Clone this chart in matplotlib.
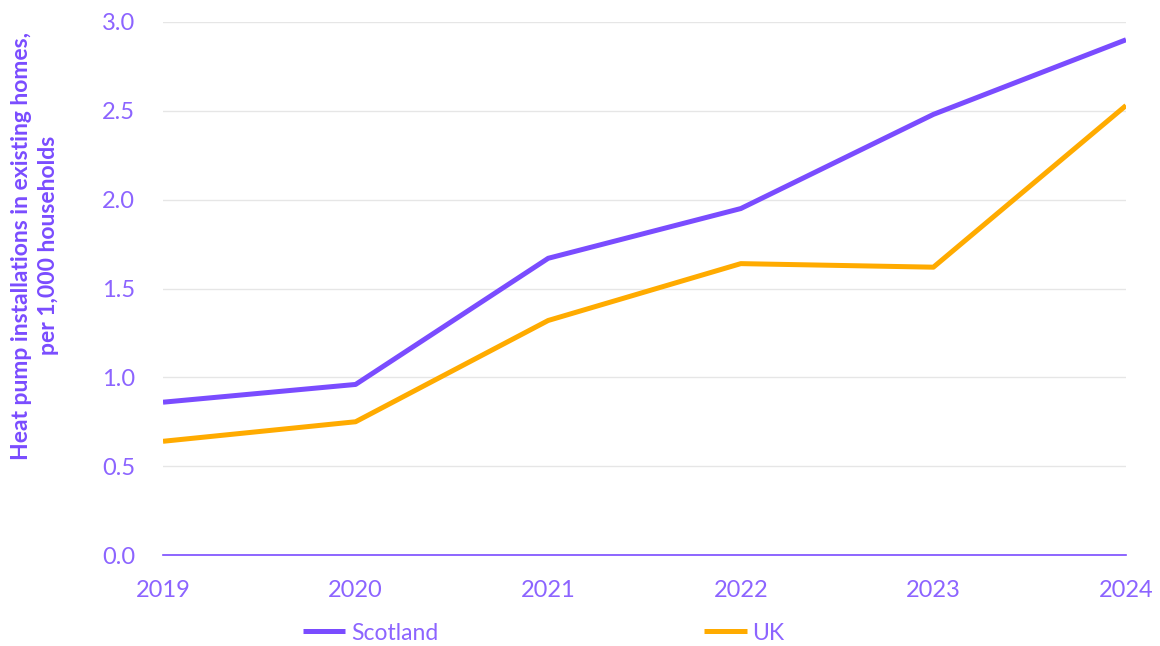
import matplotlib
matplotlib.use("Agg")
import matplotlib.pyplot as plt

years = [2019, 2020, 2021, 2022, 2023, 2024]
scotland = [0.86, 0.96, 1.67, 1.95, 2.48, 2.90]
uk = [0.64, 0.75, 1.32, 1.64, 1.62, 2.53]
yticks = [0.0, 0.5, 1.0, 1.5, 2.0, 2.5, 3.0]

PURPLE = "#7a4cff"
TICK = "#8c64ff"
ORANGE = "#ffab00"

plt.rcParams['font.family'] = ['Lato', 'DejaVu Sans']

fig = plt.figure(figsize=(11.6, 6.46), dpi=100)
ax = fig.add_axes([163/1160, 1-555/646, (1126-163)/1160, (555-22)/646])

ax.plot(years, scotland, color=PURPLE, lw=3.6, label="Scotland", solid_capstyle='butt', zorder=3)
ax.plot(years, uk, color=ORANGE, lw=3.6, label="UK", solid_capstyle='butt', zorder=3)

ax.set_xlim(2019, 2024)
ax.set_ylim(0, 3.0)
ax.set_yticks(yticks)
ax.set_yticklabels([f"{v:.1f}" for v in yticks])
ax.set_xticks(years)
ax.set_xticklabels([str(y) for y in years])
ax.grid(axis='y', color='#e6e6e6', lw=1)
ax.set_axisbelow(True)
for s in ['top', 'right', 'left']:
    ax.spines[s].set_visible(False)
ax.spines['bottom'].set_color(PURPLE)
ax.spines['bottom'].set_linewidth(1.2)
ax.tick_params(axis='both', length=0, colors=TICK, labelsize=17)
ax.tick_params(axis='y', pad=20)
ax.tick_params(axis='x', pad=18)

ax.set_ylabel("Heat pump installations in existing homes,\nper 1,000 households",
              color=PURPLE, fontsize=16.5, fontweight='bold', linespacing=1.35,
              va='center', ha='center')
ax.yaxis.set_label_coords(-0.133, 0.58)

fig.legend(loc='center left', bbox_to_anchor=(303/1160, 1-633/646), ncol=2,
           frameon=False, fontsize=16.5, handlelength=1.85, handletextpad=0.25,
           columnspacing=11.6, borderpad=0, borderaxespad=0, labelcolor=TICK)

fig.savefig("out.png", dpi=100)
